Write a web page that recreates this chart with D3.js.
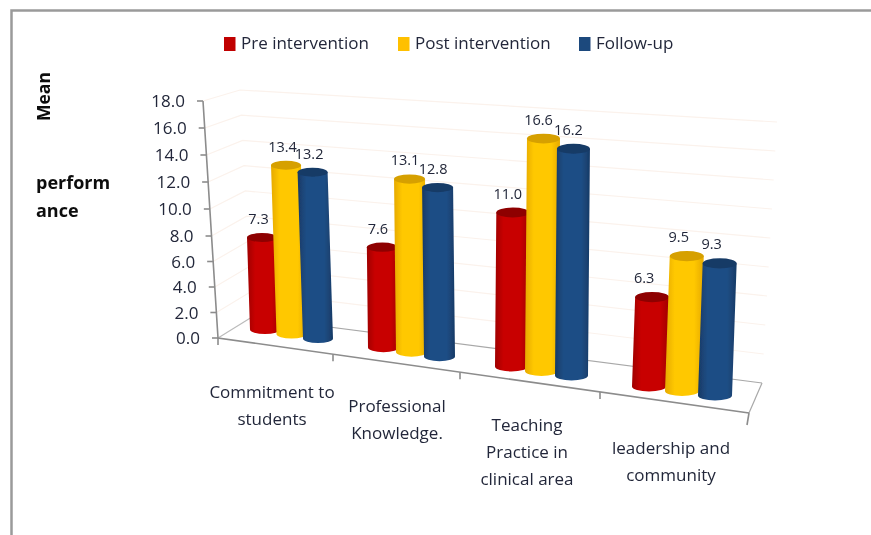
<!DOCTYPE html>
<html><head><meta charset="utf-8">
<script src="https://cdn.jsdelivr.net/npm/d3@7/dist/d3.min.js"></script>
<style>html,body{margin:0;padding:0;background:#fff}svg{display:block}text{font-family:"Open Sans",sans-serif;fill:#23283a}</style>
</head><body><svg id="c" width="871" height="535"></svg>
<script>
const categories = [["Commitment to","students"],["Professional","Knowledge."],["Teaching","Practice in","clinical area"],["leadership and","community"]];
const seriesNames = ["Pre intervention","Post intervention","Follow-up"];
const preIntervention = [7.3,7.6,11.0,6.3];
const postIntervention = [13.4,13.1,16.6,9.5];
const followUp = [13.2,12.8,16.2,9.3];
const seriesValues = [preIntervention,postIntervention,followUp];
const yTicks = [0,2,4,6,8,10,12,14,16,18];

const svg = d3.select("#c");
const defs = svg.append("defs");
defs.append("filter").attr("id","soft").append("feGaussianBlur").attr("stdDeviation",0.5);
const palette = [
 {main:"#c80000",edge:"#a00000",top:"#8e0000",key:"#c00000"},
 {main:"#ffc800",edge:"#e6aa00",top:"#d6a000",key:"#ffc000"},
 {main:"#1f4e85",edge:"#173a66",top:"#173a66",key:"#1f497d"}];
palette.forEach((p,i)=>{
  const g=defs.append("linearGradient").attr("id","g"+i).attr("x1",0).attr("x2",1).attr("y1",0).attr("y2",0);
  [[0,p.edge],[.25,p.main],[.75,p.main],[1,p.edge]].forEach(([o,c])=>g.append("stop").attr("offset",o).attr("stop-color",c));
});

// frame
const root = svg.append("g").attr("filter","url(#soft)");
root.append("path").attr("d","M11.5,535V10.5H871").attr("fill","none").attr("stroke","#9a9a9a").attr("stroke-width",2.5);

// perspective scales, one per quantity, across the four categories
const idx=[0,1,2,3];
const groupX=d3.scaleLinear().domain(idx).range([291.5,411.5,541.5,682]);
const baseY=d3.scaleLinear().domain(idx).range([334,352,371,391]);
const pitch=d3.scaleLinear().domain(idx).range([26.5,28,30,33]);
const barW=d3.scaleLinear().domain(idx).range([30,31,33,34]);
const unitH=d3.scaleLinear().domain(idx).range([12.6,13.2,14.0,14.2]);
const lean=d3.scaleLinear().domain(idx).range([-0.41,-0.15,0.12,0.5]);
const labelDx=d3.scaleLinear().domain(idx).range([-3.5,-4.5,-5,-8]);
const depth=4.5;

// walls and floor
const axisY=d3.scaleLinear().domain([0,8,18]).range([338,236,101]);
const axisX=d3.scaleLinear().domain([338,101]).range([218,203]);
const bendX=d3.scaleLinear().domain([0,18]).range([252,240]);
const bendY=d3.scaleLinear().domain([0,18]).range([317,90]);
const endX=d3.scaleLinear().domain([0,18]).range([762,777]);
const endY=d3.scaleLinear().domain([0,18]).range([383,122]);
const grid=root.append("g");
grid.selectAll("path").data(yTicks.filter(d=>d>0)).join("path")
  .attr("d",d=>`M${axisX(axisY(d))},${axisY(d)}L${bendX(d)},${bendY(d)}L${endX(d)},${endY(d)}`)
  .attr("fill","none").attr("stroke","#fbf2ec").attr("stroke-width",1.2);
const axisColor="#8c8c8c";
root.append("path").attr("d",`M${bendX(0)},${bendY(0)}L${endX(0)},${endY(0)}`).attr("stroke","#a8a8a8").attr("stroke-width",1.2).attr("fill","none");
root.append("path").attr("d",`M${axisX(axisY(0))},${axisY(0)}L${bendX(0)},${bendY(0)}`).attr("stroke","#bbb").attr("stroke-width",1.2).attr("fill","none");
root.append("path").attr("d",`M${endX(0)},${endY(0)}L749,413`).attr("stroke","#a8a8a8").attr("stroke-width",1.2).attr("fill","none");
root.append("path").attr("d",`M${axisX(101)},101L${axisX(338)},338L749,413`).attr("stroke",axisColor).attr("stroke-width",1.6).attr("fill","none");
const frontX=[0,115,242,382,531];
const frontScale=d3.scaleLinear().domain([0,531]).range([338,413]);
root.selectAll("path.xt").data(frontX).join("path").attr("class","xt")
  .attr("d",d=>`M${218+d},${frontScale(d)}l${d==531?-2:0},${d==531?12:7}`)
  .attr("stroke",axisColor).attr("stroke-width",1.6);
root.selectAll("path.yt").data(yTicks).join("path").attr("class","yt")
  .attr("d",d=>`M${axisX(axisY(d))},${axisY(d)}h-6`).attr("stroke",axisColor).attr("stroke-width",1.6);
root.selectAll("text.yl").data(yTicks).join("text").attr("class","yl")
  .attr("x",d=>axisX(axisY(d))-18).attr("y",d=>axisY(d)+6).attr("text-anchor","end")
  .attr("font-size",17).text(d=>d.toFixed(1));

// cylinders
const bars=[];
seriesValues.forEach((vals,s)=>vals.forEach((v,c)=>bars.push({s,c,v})));
const geo=d=>{
  const bx=groupX(d.c)+(d.s-1)*pitch(d.c), by=baseY(d.c)+(d.s-1)*depth;
  const tx=bx+lean(d.c)*d.v, ty=by-unitH(d.c)*d.v, r=barW(d.c)/2, ry=r*0.3;
  return {bx,by,tx,ty,r,ry};
};
const barG=root.selectAll("g.bar").data(bars).join("g").attr("class","bar");
barG.append("path").attr("fill",d=>`url(#g${d.s})`).attr("d",d=>{
  const g=geo(d);
  return `M${g.tx-g.r},${g.ty}L${g.bx-g.r},${g.by}A${g.r},${g.ry} 0 0 0 ${g.bx+g.r},${g.by}L${g.tx+g.r},${g.ty}Z`;
});
barG.append("ellipse").attr("fill",d=>palette[d.s].top)
  .attr("cx",d=>geo(d).tx).attr("cy",d=>geo(d).ty).attr("rx",d=>geo(d).r).attr("ry",d=>geo(d).ry);

// value labels
root.selectAll("text.val").data(bars).join("text").attr("class","val")
  .attr("x",d=>geo(d).tx+labelDx(d.c)).attr("y",d=>geo(d).ty-geo(d).ry-9)
  .attr("text-anchor","middle").attr("font-size",14.5).text(d=>d.v.toFixed(1));

// category labels
const catX=d3.scaleLinear().domain(idx).range([272,397,527,671]);
const catY=d3.scaleLinear().domain(idx).range([398,412,431,454]);
const catG=root.selectAll("text.cat").data(categories).join("text").attr("class","cat")
  .attr("text-anchor","middle").attr("font-size",17);
catG.each(function(lines,i){
  d3.select(this).selectAll("tspan").data(lines).join("tspan")
    .attr("x",catX(i)).attr("y",(l,k)=>catY(i)+k*27).text(l=>l);
});

// legend
const legendX=d3.scaleOrdinal().domain(seriesNames).range([224,398,579]);
const lg=root.selectAll("g.lg").data(seriesNames).join("g").attr("class","lg")
  .attr("transform",d=>`translate(${legendX(d)},37)`);
lg.append("rect").attr("width",11.5).attr("height",14).attr("fill",(d,i)=>palette[i].key);
lg.append("text").attr("x",17).attr("y",12).attr("font-size",17).text(d=>d);

// y title
root.append("text").attr("transform","translate(50,121) rotate(-90)").attr("font-weight",700).attr("font-size",17.5).text("Mean").style("fill","#111");
root.append("text").attr("x",36).attr("y",189).attr("font-weight",700).attr("font-size",18).text("perform").style("fill","#111");
root.append("text").attr("x",36).attr("y",217).attr("font-weight",700).attr("font-size",18).text("ance").style("fill","#111");
</script></body></html>
